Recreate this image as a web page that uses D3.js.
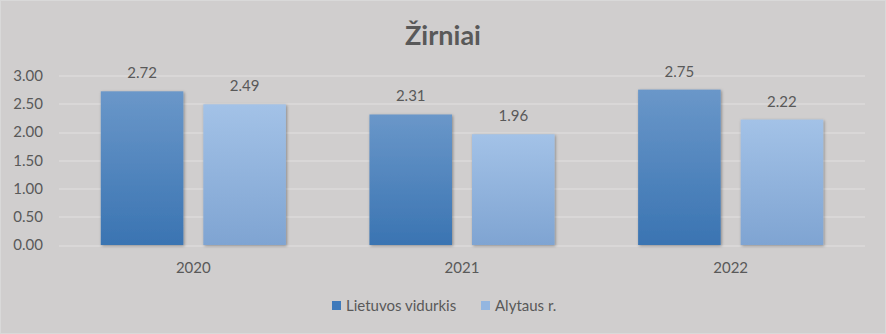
<!DOCTYPE html>
<html>
<head>
<meta charset="utf-8">
<script src="https://cdn.jsdelivr.net/npm/d3@7"></script>
<style>
  body { margin: 0; background: #fff; }
  text { font-family: Lato, "Open Sans", sans-serif; fill: #595959; }
</style>
</head>
<body>
<div id="chart"></div>
<script>
// data
var years = ["2020", "2021", "2022"];
var seriesNames = ["Lietuvos vidurkis", "Alytaus r."];
var lietuvos = [2.72, 2.31, 2.75];
var alytaus = [2.49, 1.96, 2.22];
var yTicks = [0, 0.5, 1, 1.5, 2, 2.5, 3];

var W = 886, H = 334;
var margin = {top: 75.5, right: 21, bottom: 89, left: 59},
    width = W - margin.left - margin.right,
    height = H - margin.top - margin.bottom;

var svg = d3.select("#chart").append("svg")
    .attr("width", W)
    .attr("height", H);

// gradients + shadow
var defs = svg.append("defs");
var grads = [["g0", "#6a97c9", "#3a74b2"], ["g1", "#a3c2e7", "#7fa4d2"]];
grads.forEach(function (g) {
    var lg = defs.append("linearGradient").attr("id", g[0])
        .attr("x1", 0).attr("y1", 0).attr("x2", 0).attr("y2", 1);
    lg.append("stop").attr("offset", "0%").attr("stop-color", g[1]);
    lg.append("stop").attr("offset", "100%").attr("stop-color", g[2]);
});
var f = defs.append("filter").attr("id", "shadow")
    .attr("x", "-20%").attr("y", "-10%").attr("width", "140%").attr("height", "120%");
f.append("feDropShadow").attr("dx", 1).attr("dy", 1)
    .attr("stdDeviation", 1.5).attr("flood-color", "#000").attr("flood-opacity", 0.35);

// background
svg.append("rect")
    .attr("x", 0.5).attr("y", 0.5)
    .attr("width", W - 1).attr("height", H - 1)
    .attr("fill", "#d0cece")
    .attr("stroke", "#d9d9d9");

// title
svg.append("text")
    .attr("x", 443).attr("y", 45)
    .attr("text-anchor", "middle")
    .style("font-size", "27px")
    .style("font-weight", "bold")
    .text("Žirniai");

var g = svg.append("g")
    .attr("transform", "translate(" + margin.left + "," + margin.top + ")");

// scales
var p = 0.311;
var x0 = d3.scaleBand().domain(years).range([0, width])
    .paddingInner(p).paddingOuter(p / 2);
var x1 = d3.scaleBand().domain(seriesNames).range([0, x0.bandwidth()])
    .paddingInner(0.195);
var y = d3.scaleLinear().domain([0, 3]).range([height, 0]);

// gridlines
g.append("g")
    .selectAll("line")
    .data(yTicks)
    .enter().append("line")
    .attr("x1", 0).attr("x2", width)
    .attr("y1", function (d) { return Math.round(y(d)) + 0.5; })
    .attr("y2", function (d) { return Math.round(y(d)) + 0.5; })
    .attr("stroke", "#e2e0e0")
    .attr("stroke-width", 1);

// y tick labels
g.append("g")
    .selectAll("text")
    .data(yTicks)
    .enter().append("text")
    .attr("x", -16)
    .attr("y", function (d) { return y(d); })
    .attr("dy", "0.35em")
    .attr("text-anchor", "end")
    .style("font-size", "15px")
    .text(function (d) { return d3.format(".2f")(d); });

// x labels
g.append("g")
    .selectAll("text")
    .data(years)
    .enter().append("text")
    .attr("x", function (d) { return x0(d) + x0.bandwidth() / 2; })
    .attr("y", height + 28)
    .attr("text-anchor", "middle")
    .style("font-size", "15px")
    .text(function (d) { return d; });

// bars
var data = years.map(function (yr, i) {
    return {year: yr, vals: [lietuvos[i], alytaus[i]]};
});

var groups = g.selectAll(".grp")
    .data(data)
    .enter().append("g")
    .attr("class", "grp")
    .attr("transform", function (d) { return "translate(" + x0(d.year) + ",0)"; });

groups.selectAll("rect")
    .data(function (d) { return d.vals.map(function (v, j) { return {s: j, v: v}; }); })
    .enter().append("rect")
    .attr("x", function (d) { return x1(seriesNames[d.s]); })
    .attr("y", function (d) { return y(d.v); })
    .attr("width", x1.bandwidth())
    .attr("height", function (d) { return height - y(d.v); })
    .attr("fill", function (d) { return "url(#g" + d.s + ")"; })
    .attr("filter", "url(#shadow)");

groups.selectAll(".lbl")
    .data(function (d) { return d.vals.map(function (v, j) { return {s: j, v: v}; }); })
    .enter().append("text")
    .attr("class", "lbl")
    .attr("x", function (d) { return x1(seriesNames[d.s]) + x1.bandwidth() / 2; })
    .attr("y", function (d) { return y(d.v) - 13; })
    .attr("text-anchor", "middle")
    .style("font-size", "15px")
    .text(function (d) { return d3.format(".2f")(d.v); });

// legend
var legColors = ["#3f7abb", "#94b6e0"];
var legX = [332, 481];
seriesNames.forEach(function (s, i) {
    svg.append("rect")
        .attr("x", legX[i]).attr("y", 301)
        .attr("width", 9).attr("height", 9)
        .attr("fill", legColors[i]);
    svg.append("text")
        .attr("x", legX[i] + 14).attr("y", 311)
        .style("font-size", "15px")
        .text(s);
});
</script>
</body>
</html>
